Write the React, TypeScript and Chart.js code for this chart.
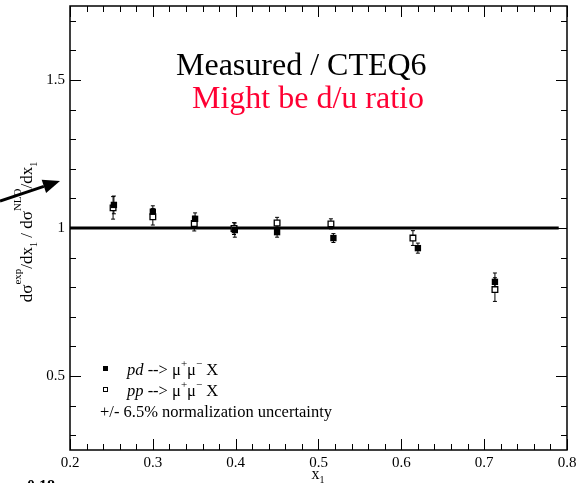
import React, { useEffect, useRef } from 'react';
import { Chart, registerables } from 'chart.js';
Chart.register(...registerables);

const FONT = "'Liberation Serif', 'Times New Roman', serif";

// pd --> mu+ mu- X (filled squares)
const pdX = [0.253, 0.300, 0.351, 0.399, 0.450, 0.518, 0.620, 0.713];
const pdY = [1.078, 1.055, 1.031, 0.993, 0.986, 0.966, 0.932, 0.818];
const pdErr = [0.030, 0.020, 0.020, 0.024, 0.017, 0.015, 0.017, 0.030];
// pp --> mu+ mu- X (open squares)
const ppX = [0.252, 0.300, 0.350, 0.398, 0.450, 0.515, 0.614, 0.713];
const ppY = [1.068, 1.038, 1.015, 0.998, 1.017, 1.014, 0.966, 0.792];
const ppErr = [0.038, 0.028, 0.025, 0.020, 0.019, 0.017, 0.025, 0.040];
// reference line
const refX = [0.2, 0.79];
const refY = [1, 1];

const xMajor = [0.2, 0.3, 0.4, 0.5, 0.6, 0.7, 0.8];
const xTickLabels = ['0.2', '0.3', '0.4', '0.5', '0.6', '0.7', '0.8'];
const yMajor = [0.5, 1, 1.5];
const yTickLabels = ['0.5', '1', '1.5'];

type Part = { t: string; size: number; dy: number; style?: string };

function drawParts(ctx: CanvasRenderingContext2D, parts: Part[], x: number, y: number, align: 'left' | 'center') {
  let w = 0;
  for (const p of parts) {
    ctx.font = `${p.style || ''} ${p.size}px ${FONT}`;
    w += ctx.measureText(p.t).width;
  }
  let cx = align === 'center' ? x - w / 2 : x;
  ctx.textAlign = 'left';
  ctx.textBaseline = 'alphabetic';
  for (const p of parts) {
    ctx.font = `${p.style || ''} ${p.size}px ${FONT}`;
    ctx.fillText(p.t, cx, y + p.dy);
    cx += ctx.measureText(p.t).width;
  }
}

const overlay = {
  id: 'overlay',
  beforeDatasetsDraw(chart: any) {
    const ctx = chart.ctx as CanvasRenderingContext2D;
    const xs = chart.scales.x, ys = chart.scales.y;
    ctx.save();
    ctx.strokeStyle = '#000';
    ctx.lineWidth = 1;
    const bars = (X: number[], Y: number[], E: number[]) => {
      X.forEach((xv, i) => {
        const px = xs.getPixelForValue(xv);
        const p1 = ys.getPixelForValue(Y[i] - E[i]);
        const p2 = ys.getPixelForValue(Y[i] + E[i]);
        ctx.beginPath();
        ctx.moveTo(px, p1); ctx.lineTo(px, p2);
        ctx.moveTo(px - 2, p1); ctx.lineTo(px + 2, p1);
        ctx.moveTo(px - 2, p2); ctx.lineTo(px + 2, p2);
        ctx.stroke();
      });
    };
    bars(pdX, pdY, pdErr);
    bars(ppX, ppY, ppErr);
    ctx.restore();
  },
  afterDraw(chart: any) {
    const ctx = chart.ctx as CanvasRenderingContext2D;
    const xs = chart.scales.x, ys = chart.scales.y;
    const { left, right, top, bottom } = chart.chartArea;
    ctx.save();
    ctx.strokeStyle = '#000';
    ctx.fillStyle = '#000';
    // frame
    ctx.lineWidth = 1.5;
    ctx.strokeRect(left, top, right - left, bottom - top);
    // inward ticks
    ctx.lineWidth = 1;
    ctx.beginPath();
    for (let k = 0; k <= 30; k++) {
      const v = 0.2 + k * 0.02;
      const major = k % 5 === 0;
      const len = major ? 11 : 6;
      const px = Math.round(xs.getPixelForValue(v)) + 0.5;
      ctx.moveTo(px, bottom); ctx.lineTo(px, bottom - len);
      ctx.moveTo(px, top); ctx.lineTo(px, top + len);
    }
    for (let k = 3; k <= 17; k++) {
      const v = k * 0.1;
      const major = k % 5 === 0;
      const len = major ? 11 : 6;
      const py = Math.round(ys.getPixelForValue(v)) + 0.5;
      ctx.moveTo(left, py); ctx.lineTo(left + len, py);
      ctx.moveTo(right, py); ctx.lineTo(right - len, py);
    }
    ctx.stroke();

    // titles
    ctx.textAlign = 'left';
    ctx.textBaseline = 'alphabetic';
    ctx.font = `32px ${FONT}`;
    ctx.fillStyle = '#000';
    ctx.fillText('Measured / CTEQ6', 176, 75);
    ctx.fillStyle = '#ff0033';
    ctx.fillText('Might be d/u ratio', 192, 108);

    // legend
    ctx.fillStyle = '#000';
    ctx.fillRect(103, 366, 5, 5);
    ctx.lineWidth = 1;
    ctx.strokeRect(103.5, 387.5, 4, 4);
    const leg = (name: string, y: number) =>
      drawParts(ctx, [
        { t: name, size: 16.5, dy: 0, style: 'italic' },
        { t: ' --> \u03bc', size: 16.5, dy: 0 },
        { t: '+', size: 11, dy: -8 },
        { t: '\u03bc', size: 16.5, dy: 0 },
        { t: '\u2212', size: 11, dy: -8 },
        { t: ' X', size: 16.5, dy: 0 },
      ], 127, y, 'left');
    leg('pd', 375);
    leg('pp', 396);
    ctx.font = `16.5px ${FONT}`;
    ctx.fillText('+/- 6.5% normalization uncertainty', 100, 417);

    // x axis title
    drawParts(ctx, [
      { t: 'x', size: 16, dy: 0 },
      { t: '1', size: 10, dy: 4 },
    ], 318, 479, 'center');

    // y axis title
    ctx.save();
    ctx.translate(32, 232);
    ctx.rotate(-Math.PI / 2);
    drawParts(ctx, [
      { t: 'd\u03c3', size: 17, dy: 0 },
      { t: 'exp', size: 11, dy: -11 },
      { t: '/dx', size: 17, dy: 0 },
      { t: '1', size: 10, dy: 5 },
      { t: ' / d\u03c3', size: 17, dy: 0 },
      { t: 'NLO', size: 11, dy: -11 },
      { t: '/dx', size: 17, dy: 0 },
      { t: '1', size: 10, dy: 5 },
    ], 0, 0, 'center');
    ctx.restore();

    // arrow
    const x0 = 0, y0 = 201, x1 = 60, y1 = 181;
    const ang = Math.atan2(y1 - y0, x1 - x0);
    const hl = 17, hw = 7;
    const bx = x1 - hl * Math.cos(ang), by = y1 - hl * Math.sin(ang);
    ctx.lineWidth = 3;
    ctx.beginPath();
    ctx.moveTo(x0, y0); ctx.lineTo(bx, by);
    ctx.stroke();
    ctx.beginPath();
    ctx.moveTo(x1, y1);
    ctx.lineTo(bx + hw * Math.sin(ang), by - hw * Math.cos(ang));
    ctx.lineTo(bx - hw * Math.sin(ang), by + hw * Math.cos(ang));
    ctx.closePath();
    ctx.fill();

    // cut-off label at bottom-left
    ctx.font = `bold 16px ${FONT}`;
    ctx.fillText('0.18', 27, 491);
    ctx.restore();
  },
};

export default function App() {
  const ref = useRef<HTMLCanvasElement>(null);
  useEffect(() => {
    if (!ref.current) return;
    const chart = new Chart(ref.current, {
      type: 'scatter',
      data: {
        datasets: [
          {
            label: 'pd',
            data: pdX.map((x, i) => ({ x, y: pdY[i] })),
            pointStyle: 'rect',
            pointRadius: 4.5,
            backgroundColor: '#000',
            borderColor: '#000',
            borderWidth: 0,
          },
          {
            label: 'pp',
            data: ppX.map((x, i) => ({ x, y: ppY[i] })),
            pointStyle: 'rect',
            pointRadius: 4,
            backgroundColor: '#fff',
            borderColor: '#000',
            borderWidth: 1.3,
          },
          {
            type: 'line',
            label: 'ref',
            data: refX.map((x, i) => ({ x, y: refY[i] })),
            showLine: true,
            borderColor: '#000',
            borderWidth: 3,
            pointRadius: 0,
          } as any,
        ],
      },
      options: {
        responsive: false,
        animation: false,
        devicePixelRatio: 1,
        layout: { padding: { top: 6, right: 19, left: 0, bottom: 0 } },
        plugins: { legend: { display: false }, tooltip: { enabled: false } },
        scales: {
          x: {
            type: 'linear',
            min: 0.2,
            max: 0.8,
            afterBuildTicks: (s: any) => { s.ticks = xMajor.map((v) => ({ value: v })); },
            afterFit: (s: any) => { s.height = 33; s.paddingLeft = 0; s.paddingRight = 0; },
            grid: { display: false, drawTicks: false },
            border: { display: false },
            ticks: {
              padding: 4,
              color: '#000',
              maxRotation: 0,
              autoSkip: false,
              font: { family: FONT, size: 15 },
              callback: (v: any) => xTickLabels[xMajor.findIndex((m) => Math.abs(m - v) < 1e-6)] ?? '',
            },
          },
          y: {
            type: 'linear',
            min: 0.25,
            max: 1.75,
            afterBuildTicks: (s: any) => { s.ticks = yMajor.map((v) => ({ value: v })); },
            afterFit: (s: any) => { s.width = 70; s.paddingTop = 0; s.paddingBottom = 0; },
            grid: { display: false, drawTicks: false },
            border: { display: false },
            ticks: {
              padding: 5,
              color: '#000',
              autoSkip: false,
              font: { family: FONT, size: 15 },
              callback: (v: any) => yTickLabels[yMajor.findIndex((m) => Math.abs(m - v) < 1e-6)] ?? '',
            },
          },
        },
      },
      plugins: [overlay],
    });
    return () => chart.destroy();
  }, []);
  return (
    <div style={{ position: 'fixed', left: 0, top: 0, width: 586, height: 483, background: '#fff' }}>
      <canvas ref={ref} width={586} height={483} style={{ display: 'block' }} />
    </div>
  );
}
